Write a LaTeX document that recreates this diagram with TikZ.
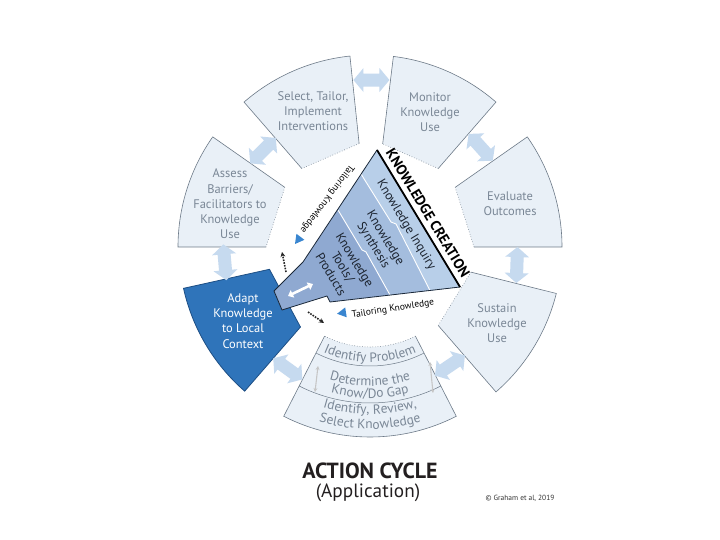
\documentclass[tikz,border=0pt]{standalone}
\usepackage{fontspec}
\setmainfont{PT Sans}
\usetikzlibrary{decorations.text,arrows.meta}
\definecolor{segfill}{HTML}{E9F0F7}
\definecolor{segline}{HTML}{6D7A88}
\definecolor{segtext}{HTML}{7A8796}
\definecolor{arrowfill}{HTML}{C6DAEF}
\definecolor{adaptfill}{HTML}{2F74BA}
\definecolor{adaptline}{HTML}{1D4E84}
\definecolor{bandA}{HTML}{B8CFE9}
\definecolor{bandB}{HTML}{A4BDDE}
\definecolor{bandC}{HTML}{8FA9D1}
\definecolor{funline}{HTML}{1B2838}
\definecolor{funtext}{HTML}{1C2430}
\definecolor{tblue}{HTML}{3A86D0}
\definecolor{titlecol}{HTML}{231F20}
\newcommand\kseg[4]{%
 \fill[segfill] (#1:#3) -- (#1:#4) arc[start angle=#1,end angle=#2,radius=#4] -- (#2:#3) -- cycle;
 \draw[segline,line width=0.6] (#1:#3) -- (#1:#4) arc[start angle=#1,end angle=#2,radius=#4] -- (#2:#3);
 \draw[segline,line width=0.6,dotted] (#1:#3) -- (#2:#3);
}
\newcommand\ktbfont{\fontsize{13.5}{15}\selectfont}
\begin{document}
\begin{tikzpicture}[x=1bp,y=1bp,
  segtxt/.style={text=segtext, align=center, font=\fontsize{12.5}{15.3}\selectfont},
  funtxt/.style={text=funtext, align=center, rotate=-58.8, font=\fontsize{12.8}{14}\selectfont},
  pics/fatarrow/.style={code={\fill[arrowfill] (-18,0) -- (-8,12) -- (-8,6.5) -- (8,6.5) -- (8,12) -- (18,0) -- (8,-12) -- (8,-6.5) -- (-8,-6.5) -- (-8,-12) -- cycle;}},
  pics/bluetri/.style={code={\fill[tblue] (5,0) -- (-4,5) -- (-4,-5) -- cycle;}},
  dasharr/.style={line width=1.6, dash pattern=on 1.6pt off 1.2pt, -{Stealth[length=5pt,width=5pt]}, black!85},
  graydbl/.style={draw=gray!45, line width=1.1, {Stealth[length=4pt,width=4pt]}-{Stealth[length=4pt,width=4pt]}},
  bottomtext/.style={decorate, decoration={text along path, text align=center, text color=segtext, text={|\ktbfont|#1}}}
]
\useasboundingbox (0,0) rectangle (720,-540);
\fill[white] (0,0) rectangle (720,-540);

\begin{scope}[shift={(370,-247)}]
  % outer segments
  \kseg{96}{131}{104}{192}
  \kseg{49}{83}{104}{192}
  \kseg{0}{35}{104}{192}
  \kseg{-49}{-14}{104}{192}
  \kseg{145}{180}{104}{192}
  % bottom segment
  \fill[segfill] (-117:100) -- (-117:190) arc[start angle=-117,end angle=-63,radius=190] -- (-63:100) arc[start angle=-63,end angle=-117,radius=100] -- cycle;
  \draw[segline,line width=0.6] (-117:100) -- (-117:190) arc[start angle=-117,end angle=-63,radius=190] -- (-63:100);
  \draw[segline,line width=0.6,dotted] (-63:100) arc[start angle=-63,end angle=-117,radius=100];
  \draw[segline,line width=0.5] (-117:119) arc[start angle=-117,end angle=-63,radius=119];
  \draw[segline,line width=0.5] (-117:156) arc[start angle=-117,end angle=-63,radius=156];
  \path[bottomtext={Identify Problem}] (-125:115) arc[start angle=-125,end angle=-55,radius=115];
  \path[bottomtext={Determine the}] (-125:139) arc[start angle=-125,end angle=-55,radius=139];
  \path[bottomtext={Know/Do Gap}] (-125:151) arc[start angle=-125,end angle=-55,radius=151];
  \path[bottomtext={Identify, Review,}] (-125:167) arc[start angle=-125,end angle=-55,radius=167];
  \path[bottomtext={Select Knowledge}] (-125:182) arc[start angle=-125,end angle=-55,radius=182];
  % adapt segment
  \filldraw[fill=adaptfill, draw=adaptline, line width=0.8] (192.5:103) -- (192.5:191) arc[start angle=192.5,end angle=229,radius=191] -- (229:106) -- cycle;
  % fat arrows between segments
  \pic[rotate=0] at (89.5:167) {fatarrow};
  \pic[rotate=132] at (42:149) {fatarrow};
  \pic[rotate=88] at (-7:148) {fatarrow};
  \pic[rotate=34] at (-56:143) {fatarrow};
  \pic[rotate=-36] at (236:147) {fatarrow};
  \pic[rotate=95] at (186:146) {fatarrow};
  \pic[rotate=45] at (138:144) {fatarrow};
\end{scope}

% inner gray arrows of the bottom segment
\coordinate (ga1) at (318,-366); \coordinate (ga2) at (315,-392);
\coordinate (gb1) at (430,-362); \coordinate (gb2) at (433,-393);
\draw[graydbl] (ga1) -- (ga2);
\draw[graydbl] (gb1) -- (gb2);

% segment texts
\node[segtxt] (sel) at (313,-111) {Select, Tailor,\\Implement\\Interventions};
\node[segtxt] (mon) at (430,-112) {Monitor\\Knowledge\\Use};
\node[segtxt] (eva) at (510,-204) {Evaluate\\Outcomes};
\node[segtxt] (sus) at (497,-323) {Sustain\\Knowledge\\Use};
\node[segtxt] (ass) at (230,-204) {Assess\\Barriers/\\Facilitators to\\Knowledge\\Use};
\node[segtxt, text=white] (ada) at (243,-321) {Adapt\\Knowledge\\to Local\\Context};

% funnel
\coordinate (fA) at (377,-150);
\coordinate (fR) at (460,-287);
\coordinate (fB) at (330,-302);
\coordinate (fC) at (327,-296);
\coordinate (fS3) at (282,-310);
\coordinate (fS2) at (274,-291);
\coordinate (fS1) at (303,-262);
\fill[bandC] (fA) -- (fR) -- (fB) -- (fC) -- (fS3) -- (fS2) -- (fS1) -- cycle;
\fill[bandB] (338,-210) -- (fA) -- (fR) -- (390,-295) -- (366,-252) -- (362,-250) -- cycle;
\fill[bandA] (361,-174) -- (fA) -- (fR) -- (430,-290.5) -- (396,-224) -- (391,-222) -- cycle;
\draw[white, line width=0.9] (361,-174) -- (391,-222) -- (396,-224) -- (430,-290.5);
\draw[white, line width=0.9] (338,-210) -- (362,-250) -- (366,-252) -- (390,-295);
\draw[funline, line width=0.8, line join=round] (fA) -- (fR) -- (fB) -- (fC) -- (fS3) -- (fS2) -- (fS1) -- cycle;
\draw[black, line width=1.8] (fA) -- (fR);
\coordinate (wa1) at (288,-296); \coordinate (wa2) at (313,-284);
\draw[white, line width=2.6, {Triangle[width=8pt,length=5pt]}-{Triangle[width=8pt,length=5pt]}] (wa1) -- (wa2);

\node[funtxt] (kinq) at (406,-225) {Knowledge Inquiry};
\node[funtxt] (ksyn) at (379,-242) {Knowledge\\Synthesis};
\node[funtxt] (ktool) at (343,-267) {Knowledge\\Tools/\\Products};
\node[rotate=-58.8, font=\fontsize{14.5}{16}\selectfont\bfseries, text=black] (kcre) at (428,-213) {KNOWLEDGE CREATION};
\node[rotate=233, font=\fontsize{9.5}{11}\selectfont, text=black] (tk1) at (327,-199) {Tailoring Knowledge};
\node[rotate=9, font=\fontsize{9.5}{11}\selectfont, text=black] (tk2) at (393,-309) {Tailoring Knowledge};
\pic[rotate=233] at (298,-240) {bluetri};
\pic[rotate=189] at (342,-313) {bluetri};

\coordinate (da1) at (286,-272); \coordinate (da2) at (282,-252);
\draw[dasharr] (da1) -- (da2);
\coordinate (db1) at (308,-312); \coordinate (db2) at (324,-323);
\draw[dasharr] (db1) -- (db2);

% title
\node[font=\fontsize{22}{24}\selectfont\bfseries, text=titlecol] (t1) at (370,-471) {ACTION CYCLE};
\node[font=\fontsize{19.3}{21}\selectfont, text=titlecol] (t2) at (368,-492.5) {(Application)};
\node[font=\fontsize{7.5}{9}\selectfont, text=black!80] (cr) at (520,-498) {© Graham et al, 2019};
\end{tikzpicture}
\end{document}
